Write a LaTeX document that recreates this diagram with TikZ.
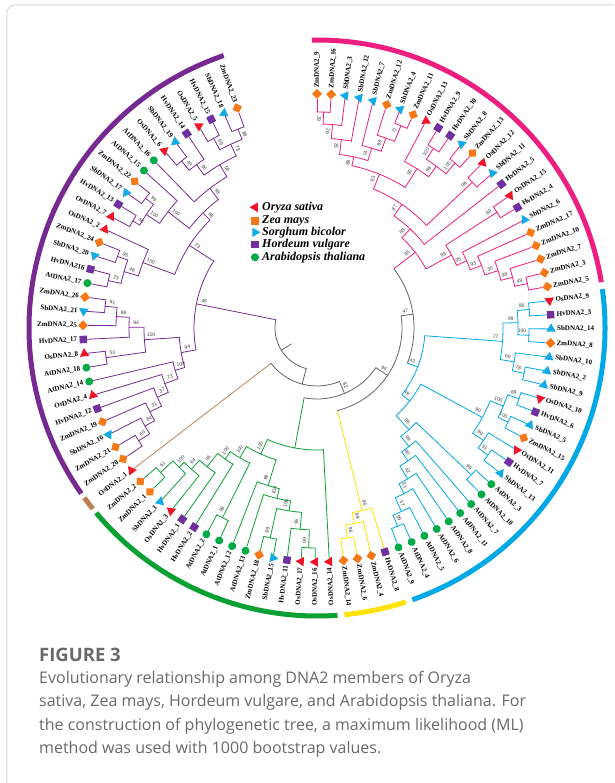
\documentclass[tikz,border=0pt]{standalone}
\usepackage{fontspec}
\setmainfont{Liberation Serif}
\newfontfamily\numfont{Liberation Sans}
\newfontfamily\capfont{Open Sans}
\usetikzlibrary{shapes.geometric, positioning}
\usepackage{xcolor}
\definecolor{osred}{RGB}{240,20,40}
\definecolor{zmorange}{RGB}{247,120,25}
\definecolor{sbcyan}{RGB}{20,170,230}
\definecolor{hvpurple}{RGB}{112,48,160}
\definecolor{atgreen}{RGB}{0,170,70}
\definecolor{cpur}{RGB}{118,42,145}
\definecolor{cpink}{RGB}{236,30,128}
\definecolor{cblue}{RGB}{0,168,230}
\definecolor{cyel}{RGB}{255,226,0}
\definecolor{cgrn}{RGB}{10,160,50}
\definecolor{cbrn}{RGB}{190,130,80}
\definecolor{cgray}{RGB}{100,100,100}
\definecolor{bootgray}{RGB}{60,60,60}
\definecolor{capgray}{RGB}{105,105,105}
\definecolor{framegray}{RGB}{215,215,215}

% angle between two neighbouring leaves
\newcommand{\stp}{3.47}

% leaf: name, index, marker, clade colour, text
\newcommand{\leaf}[5]{%
  \pgfmathsetmacro{\leafang}{90-\stp*#2}%
  \expandafter\xdef\csname pos@#1\endcsname{#2}%
  \expandafter\xdef\csname col@#1\endcsname{#4}%
  \node[#3, rotate=\leafang] (#1) at (\leafang:234pt) {};
  \ifdim #2pt<50.5pt
    \node[lab, anchor=west, rotate=\leafang] (#1-t) at (\leafang:240pt) {#5};
  \else
    \pgfmathsetmacro{\leafrot}{\leafang+180}%
    \node[lab, anchor=east, rotate=\leafrot] (#1-t) at (\leafang:240pt) {#5};
  \fi}

% internal node: name, child a, child b, radius, colour, bootstrap
\newcommand{\mkclade}[6]{%
  \pgfmathsetmacro{\posA}{\csname pos@#2\endcsname}%
  \pgfmathsetmacro{\posB}{\csname pos@#3\endcsname}%
  \pgfmathsetmacro{\posN}{(\posA+\posB)/2}%
  \pgfmathsetmacro{\angA}{90-\stp*\posA}%
  \pgfmathsetmacro{\angB}{90-\stp*\posB}%
  \pgfmathsetmacro{\angN}{90-\stp*\posN}%
  \expandafter\xdef\csname pos@#1\endcsname{\posN}%
  \expandafter\xdef\csname col@#1\endcsname{#5}%
  \coordinate (#1) at (\angN:#4pt);
  \draw[branch, \csname col@#2\endcsname] (\angA:#4pt) -- (#2);
  \draw[branch, \csname col@#3\endcsname] (\angB:#4pt) -- (#3);
  \draw[branch, #5] (\angA:#4pt) arc[start angle=\angA, end angle=\angB, radius=#4pt];
  \ifx\relax#6\relax\else
    \pgfmathsetmacro{\bootr}{#4-7}%
    \ifdim\posN pt<50.5pt
      \pgfmathsetmacro{\bootang}{\angN+258/#4}%
      \pgfmathsetmacro{\bootrot}{\bootang}%
    \else
      \pgfmathsetmacro{\bootang}{\angN-258/#4}%
      \pgfmathsetmacro{\bootrot}{\bootang+180}%
    \fi
    \node[boot, rotate=\bootrot] (#1-b) at (\bootang:\bootr pt) {#6};
  \fi}

% coloured band round a clade: colour, first leaf, last leaf
\newcommand{\band}[3]{%
  \pgfmathsetmacro{\bandA}{90-\stp*(#2)}%
  \pgfmathsetmacro{\bandB}{90-\stp*(#3)}%
  \draw[band, #1] (\bandA:288pt) arc[start angle=\bandA, end angle=\bandB, radius=288pt];}

\begin{document}
\begin{tikzpicture}[
    x=1pt, y=1pt,
    branch/.style={line width=0.8pt, line cap=round},
    band/.style={line width=5pt},
    osmark/.style={regular polygon, regular polygon sides=3, shape border rotate=180, fill=osred, minimum size=11pt, inner sep=0pt},
    sbmark/.style={regular polygon, regular polygon sides=3, fill=sbcyan, minimum size=11pt, inner sep=0pt},
    zmmark/.style={regular polygon, regular polygon sides=4, shape border rotate=45, fill=zmorange, minimum size=10pt, inner sep=0pt},
    hvmark/.style={regular polygon, regular polygon sides=4, fill=hvpurple, minimum size=10.5pt, inner sep=0pt},
    atmark/.style={circle, fill=atgreen, minimum size=8pt, inner sep=0pt},
    lab/.style={font=\fontsize{7}{7}\selectfont\bfseries, inner sep=0pt},
    boot/.style={font=\numfont\fontsize{5}{5}\selectfont, text=bootgray, inner sep=0pt},
    legtxt/.style={font=\fontsize{12}{12}\selectfont\bfseries\itshape, inner sep=0pt, anchor=west},
]
\useasboundingbox (-317,-455) rectangle (297,328);
\clip (-317,-455) rectangle (297,328);

\draw[framegray, line width=1pt, rounded corners=8pt] (-310,-480) -- (-310,323) -- (320,323);

% pink clade
\leaf{zm9}{0}{zmmark}{cpink}{ZmDNA2\_9}
\leaf{zm16}{1}{zmmark}{cpink}{ZmDNA2\_16}
\leaf{sb3}{2}{sbmark}{cpink}{SbDNA2\_3}
\leaf{sb12}{3}{sbmark}{cpink}{SbDNA2\_12}
\leaf{sb7}{4}{sbmark}{cpink}{SbDNA2\_7}
\leaf{zm12}{5}{zmmark}{cpink}{ZmDNA2\_12}
\leaf{sb4}{6}{sbmark}{cpink}{SbDNA2\_4}
\leaf{zm11}{7}{zmmark}{cpink}{ZmDNA2\_11}
\leaf{os13}{8}{osmark}{cpink}{OsDNA2\_13}
\leaf{hv9}{9}{hvmark}{cpink}{HvDNA2\_9}
\leaf{hv10}{10}{hvmark}{cpink}{HvDNA2\_10}
\leaf{sb8}{11}{sbmark}{cpink}{SbDNA2\_8}
\leaf{zm13}{12}{zmmark}{cpink}{ZmDNA2\_13}
\leaf{os12}{13}{osmark}{cpink}{OsDNA2\_12}
\leaf{sb11}{14}{sbmark}{cpink}{SbDNA2\_11}
\leaf{hv5}{15}{hvmark}{cpink}{HvDNA2\_5}
\leaf{os15}{16}{osmark}{cpink}{OsDNA2\_15}
\leaf{hv4}{17}{hvmark}{cpink}{HvDNA2\_4}
\leaf{sb6}{18}{sbmark}{cpink}{SbDNA2\_6}
\leaf{zm17}{19}{zmmark}{cpink}{ZmDNA2\_17}
\leaf{zm10}{20}{zmmark}{cpink}{ZmDNA2\_10}
\leaf{zm7}{21}{zmmark}{cpink}{ZmDNA2\_7}
\leaf{zm3}{22}{zmmark}{cpink}{ZmDNA2\_3}
\leaf{zm5}{23}{zmmark}{cpink}{ZmDNA2\_5}
% blue clade
\leaf{os9}{24}{osmark}{cblue}{OsDNA2\_9}
\leaf{hv3}{25}{hvmark}{cblue}{HvDNA2\_3}
\leaf{sb14}{26}{sbmark}{cblue}{SbDNA2\_14}
\leaf{zm8}{27}{zmmark}{cblue}{ZmDNA2\_8}
\leaf{sb10}{28}{sbmark}{cblue}{SbDNA2\_10}
\leaf{sb2}{29}{sbmark}{cblue}{SbDNA2\_2}
\leaf{sb9}{30}{sbmark}{cblue}{SbDNA2\_9}
\leaf{os10}{31}{osmark}{cblue}{OsDNA2\_10}
\leaf{hv6}{32}{hvmark}{cblue}{HvDNA2\_6}
\leaf{sb5}{33}{sbmark}{cblue}{SbDNA2\_5}
\leaf{zm15}{34}{zmmark}{cblue}{ZmDNA2\_15}
\leaf{os11}{35}{osmark}{cblue}{OsDNA2\_11}
\leaf{hv7}{36}{hvmark}{cblue}{HvDNA2\_7}
\leaf{sb13}{37}{sbmark}{cblue}{SbDNA2\_13}
\leaf{at3}{38}{atmark}{cblue}{AtDNA2\_3}
\leaf{at10}{39}{atmark}{cblue}{AtDNA2\_10}
\leaf{at7}{40}{atmark}{cblue}{AtDNA2\_7}
\leaf{at11}{41}{atmark}{cblue}{AtDNA2\_11}
\leaf{at8}{42}{atmark}{cblue}{AtDNA2\_8}
\leaf{at6}{43}{atmark}{cblue}{AtDNA2\_6}
\leaf{at5}{44}{atmark}{cblue}{AtDNA2\_5}
\leaf{at4}{45}{atmark}{cblue}{AtDNA2\_4}
\leaf{at9}{46}{atmark}{cblue}{AtDNA2\_9}
% yellow clade
\leaf{hv8}{47}{hvmark}{cyel}{HvDNA2\_8}
\leaf{zm4}{48}{zmmark}{cyel}{ZmDNA2\_4}
\leaf{zm6}{49}{zmmark}{cyel}{ZmDNA2\_6}
\leaf{zm14}{50}{zmmark}{cyel}{ZmDNA2\_14}
% green clade
\leaf{os14}{51}{osmark}{cgrn}{OsDNA2\_14}
\leaf{os16}{52}{osmark}{cgrn}{OsDNA2\_16}
\leaf{os17}{53}{osmark}{cgrn}{OsDNA2\_17}
\leaf{hv11}{54}{hvmark}{cgrn}{HvDNA2\_11}
\leaf{sb15}{55}{sbmark}{cgrn}{SbDNA2\_15}
\leaf{zm18}{56}{zmmark}{cgrn}{ZmDNA2\_18}
\leaf{at13}{57}{atmark}{cgrn}{AtDNA2\_13}
\leaf{at12}{58}{atmark}{cgrn}{AtDNA2\_12}
\leaf{at1}{59}{atmark}{cgrn}{AtDNA2\_1}
\leaf{at2}{60}{atmark}{cgrn}{AtDNA2\_2}
\leaf{hv2}{61}{hvmark}{cgrn}{HvDNA2\_2}
\leaf{hv1}{62}{hvmark}{cgrn}{HvDNA2\_1}
\leaf{os3}{63}{osmark}{cgrn}{OsDNA2\_3}
\leaf{sb1}{64}{sbmark}{cgrn}{SbDNA2\_1}
\leaf{zm1}{65}{zmmark}{cgrn}{ZmDNA2\_1}
\leaf{zm2}{66}{zmmark}{cgrn}{ZmDNA2\_2}
% brown
\leaf{os1}{67}{osmark}{cbrn}{OsDNA2\_1}
% purple clade
\leaf{zm20}{68}{zmmark}{cpur}{ZmDNA2\_20}
\leaf{zm21}{69}{zmmark}{cpur}{ZmDNA2\_21}
\leaf{sb16}{70}{sbmark}{cpur}{SbDNA2\_16}
\leaf{zm19}{71}{zmmark}{cpur}{ZmDNA2\_19}
\leaf{hv12}{72}{hvmark}{cpur}{HvDNA2\_12}
\leaf{os4}{73}{osmark}{cpur}{OsDNA2\_4}
\leaf{at14}{74}{atmark}{cpur}{AtDNA2\_14}
\leaf{at18}{75}{atmark}{cpur}{AtDNA2\_18}
\leaf{os8}{76}{osmark}{cpur}{OsDNA2\_8}
\leaf{hv17}{77}{hvmark}{cpur}{HvDNA2\_17}
\leaf{zm25}{78}{zmmark}{cpur}{ZmDNA2\_25}
\leaf{sb21}{79}{sbmark}{cpur}{SbDNA2\_21}
\leaf{zm26}{80}{zmmark}{cpur}{ZmDNA2\_26}
\leaf{at17}{81}{atmark}{cpur}{AtDNA2\_17}
\leaf{hv16}{82}{hvmark}{cpur}{HvDNA216}
\leaf{sb20}{83}{sbmark}{cpur}{SbDNA2\_20}
\leaf{zm24}{84}{zmmark}{cpur}{ZmDNA2\_24}
\leaf{os2}{85}{osmark}{cpur}{OsDNA2\_2}
\leaf{os7}{86}{osmark}{cpur}{OsDNA2\_7}
\leaf{hv13}{87}{hvmark}{cpur}{HvDNA2\_13}
\leaf{sb17}{88}{sbmark}{cpur}{SbDNA2\_17}
\leaf{zm22}{89}{zmmark}{cpur}{ZmDNA2\_22}
\leaf{at15}{90}{atmark}{cpur}{AtDNA2\_15}
\leaf{at16}{91}{atmark}{cpur}{AtDNA2\_16}
\leaf{os6}{92}{osmark}{cpur}{OsDNA2\_6}
\leaf{sb19}{93}{sbmark}{cpur}{SbDNA2\_19}
\leaf{hv14}{94}{hvmark}{cpur}{HvDNA2\_14}
\leaf{os5}{95}{osmark}{cpur}{OsDNA2\_5}
\leaf{hv15}{96}{hvmark}{cpur}{HvDNA2\_15}
\leaf{sb18}{97}{sbmark}{cpur}{SbDNA2\_18}
\leaf{zm23}{98}{zmmark}{cpur}{ZmDNA2\_23}

% pink subtree
\mkclade{pk82}{zm9}{zm16}{216}{cpink}{82}
\mkclade{pk92a}{pk82}{sb3}{204}{cpink}{92}
\mkclade{pk92b}{pk92a}{sb12}{190}{cpink}{92}
\mkclade{pk71}{sb4}{zm11}{219}{cpink}{71}
\mkclade{pk98a}{zm12}{pk71}{202}{cpink}{98}
\mkclade{pk74}{sb7}{pk98a}{188}{cpink}{74}
\mkclade{pk89}{pk92b}{pk74}{175}{cpink}{89}
\mkclade{pk100a}{hv9}{hv10}{214}{cpink}{100}
\mkclade{pk100b}{sb8}{zm13}{215}{cpink}{100}
\mkclade{pk98b}{pk100a}{pk100b}{201}{cpink}{98}
\mkclade{pk90a}{os13}{pk98b}{188}{cpink}{90}
\mkclade{pk93a}{pk89}{pk90a}{166}{cpink}{93}
\mkclade{pk96}{os12}{sb11}{213}{cpink}{96}
\mkclade{pk87}{pk93a}{pk96}{150}{cpink}{87}
\mkclade{pk88}{pk87}{hv5}{136}{cpink}{88}
\mkclade{pk90b}{os15}{hv4}{214}{cpink}{90}
\mkclade{pk49}{zm3}{zm5}{215}{cpink}{49}
\mkclade{pk99a}{zm7}{pk49}{202}{cpink}{99}
\mkclade{pk30}{zm10}{pk99a}{190}{cpink}{30}
\mkclade{pk93b}{zm17}{pk30}{176}{cpink}{93}
\mkclade{pk95}{sb6}{pk93b}{164}{cpink}{95}
\mkclade{pk99b}{pk90b}{pk95}{153}{cpink}{99}
\mkclade{pk85}{pk88}{pk99b}{124}{cpink}{85}

% blue subtree
\mkclade{bl96}{os9}{hv3}{213}{cblue}{96}
\mkclade{bl100a}{sb14}{zm8}{212}{cblue}{100}
\mkclade{bl99a}{bl96}{bl100a}{201}{cblue}{99}
\mkclade{bl78}{sb2}{sb9}{212}{cblue}{78}
\mkclade{bl60}{sb10}{bl78}{200}{cblue}{60}
\mkclade{bl77}{bl99a}{bl60}{186}{cblue}{77}
\mkclade{bl69}{os10}{hv6}{214}{cblue}{69}
\mkclade{bl100b}{sb5}{zm15}{213}{cblue}{100}
\mkclade{bl100c}{bl69}{bl100b}{202}{cblue}{100}
\mkclade{bl51}{hv7}{sb13}{213}{cblue}{51}
\mkclade{bl99b}{os11}{bl51}{201}{cblue}{99}
\mkclade{bl90}{bl100c}{bl99b}{188}{cblue}{90}
\mkclade{bl99c}{at3}{at10}{213}{cblue}{99}
\mkclade{bl99d}{at4}{at9}{214}{cblue}{99}
\mkclade{bl57}{at5}{bl99d}{202}{cblue}{57}
\mkclade{bl31}{at6}{bl57}{187}{cblue}{31}
\mkclade{bl42b}{at8}{bl31}{176}{cblue}{42}
\mkclade{bl80}{at11}{bl42b}{161}{cblue}{80}
\mkclade{bl99e}{at7}{bl80}{150}{cblue}{99}
\mkclade{bl96b}{bl99c}{bl99e}{137}{cblue}{96}
\mkclade{bl49}{bl90}{bl96b}{118}{cblue}{49}
\mkclade{bl42}{bl77}{bl49}{108}{cblue}{42}

% yellow subtree
\mkclade{ye96a}{zm6}{zm14}{212}{cyel}{96}
\mkclade{ye99}{zm4}{ye96a}{199}{cyel}{99}
\mkclade{ye96b}{hv8}{ye99}{188}{cyel}{96}

% green subtree
\mkclade{gr99a}{os16}{os17}{220}{cgrn}{99}
\mkclade{gr95}{gr99a}{hv11}{202}{cgrn}{95}
\mkclade{gr99b}{sb15}{zm18}{215}{cgrn}{99}
\mkclade{gr100a}{gr95}{gr99b}{185}{cgrn}{100}
\mkclade{gr100b}{gr100a}{at13}{175}{cgrn}{100}
\mkclade{gr99c}{gr100b}{at12}{165}{cgrn}{99}
\mkclade{gr99d}{at1}{at2}{212}{cgrn}{99}
\mkclade{gr61}{zm1}{zm2}{213}{cgrn}{61}
\mkclade{gr100c}{sb1}{gr61}{196}{cgrn}{100}
\mkclade{gr64}{os3}{gr100c}{189}{cgrn}{64}
\mkclade{gr96}{hv1}{gr64}{177}{cgrn}{96}
\mkclade{gr100d}{hv2}{gr96}{160}{cgrn}{100}
\mkclade{gr100e}{gr99d}{gr100d}{151}{cgrn}{100}
\mkclade{gr100f}{gr99c}{gr100e}{138}{cgrn}{100}
\mkclade{gr0}{os14}{gr100f}{122}{cgrn}{}

% purple subtree
\mkclade{pu60}{zm20}{zm21}{211}{cpur}{60}
\mkclade{pu84}{pu60}{sb16}{198}{cpur}{84}
\mkclade{pu31}{pu84}{zm19}{187}{cpur}{31}
\mkclade{pu37}{pu31}{hv12}{174}{cpur}{37}
\mkclade{pu73}{pu37}{os4}{162}{cpur}{73}
\mkclade{pu100a}{pu73}{at14}{148}{cpur}{100}
\mkclade{pu53}{at18}{os8}{213}{cpur}{53}
\mkclade{pu81}{sb21}{zm26}{213}{cpur}{81}
\mkclade{pu98a}{zm25}{pu81}{201}{cpur}{98}
\mkclade{pu94a}{hv17}{pu98a}{188}{cpur}{94}
\mkclade{pu100b}{pu53}{pu94a}{173}{cpur}{100}
\mkclade{pu94b}{pu100a}{pu100b}{138}{cpur}{94}
\mkclade{pu23a}{at17}{hv16}{214}{cpur}{23}
\mkclade{pu95}{sb20}{zm24}{212}{cpur}{95}
\mkclade{pu48}{pu23a}{pu95}{201}{cpur}{48}
\mkclade{pu100c}{pu48}{os2}{186}{cpur}{100}
\mkclade{pu40}{os7}{hv13}{213}{cpur}{40}
\mkclade{pu99a}{sb17}{zm22}{215}{cpur}{99}
\mkclade{pu100d}{pu40}{pu99a}{205}{cpur}{100}
\mkclade{pu100e}{pu100d}{at15}{189}{cpur}{100}
\mkclade{pu49}{os6}{sb19}{215}{cpur}{49}
\mkclade{pu96}{pu49}{hv14}{203}{cpur}{96}
\mkclade{pu99b}{os5}{hv15}{216}{cpur}{99}
\mkclade{pu88}{sb18}{zm23}{214}{cpur}{88}
\mkclade{pu78}{pu99b}{pu88}{203}{cpur}{78}
\mkclade{pu59}{pu96}{pu78}{190}{cpur}{59}
\mkclade{pu99c}{at16}{pu59}{176}{cpur}{99}
\mkclade{pu98b}{pu100e}{pu99c}{162}{cpur}{98}
\mkclade{pu23b}{pu100c}{pu98b}{152}{cpur}{23}
\mkclade{pu46}{pu94b}{pu23b}{123}{cpur}{46}

% backbone
\mkclade{bb47}{pk85}{bl42}{97}{cgray}{47}
\mkclade{bb94}{bb47}{ye96b}{85}{cgray}{94}
\mkclade{bb82}{gr0}{bb94}{71}{cgray}{82}
\mkclade{bb1}{bb82}{os1}{58}{cgray}{}
\mkclade{root}{bb1}{pu46}{42}{cgray}{}
\draw[branch, cgray] (root) -- (\angN:30pt);

% clade bands
\band{cpink}{-0.3}{23.3}
\band{cblue}{23.7}{46.3}
\band{cyel}{46.7}{50.3}
\band{cgrn}{50.7}{66.3}
\band{cbrn}{66.6}{67.4}
\band{cpur}{67.7}{98.3}

% legend
\node[osmark, rotate=-90] (leg-os) at (-62,120.7) {};
\node[zmmark, rotate=45, minimum size=11pt] (leg-zm) at (-62,107.3) {};
\node[sbmark, rotate=-90] (leg-sb) at (-62,95.7) {};
\node[hvmark] (leg-hv) at (-62,83.7) {};
\node[atmark] (leg-at) at (-62,70.7) {};
\node[legtxt] (legt-os) at (-55,120.7) {Oryza sativa};
\node[legtxt] (legt-zm) at (-55,107.3) {Zea mays};
\node[legtxt] (legt-sb) at (-55,95.7) {Sorghum bicolor};
\node[legtxt] (legt-hv) at (-55,83.7) {Hordeum vulgare};
\node[legtxt] (legt-at) at (-55,70.7) {Arabidopsis thaliana};

% caption
\node[anchor=base west, inner sep=0pt, text=capgray, font=\capfont\bfseries\fontsize{18.5}{18.5}\selectfont] (figtitle) at (-278,-333) {FIGURE 3};
\node[anchor=north west, inner sep=0pt, align=left, text=capgray, font=\capfont\fontsize{16}{23.5}\selectfont] (figcap) at (-278,-343)
  {Evolutionary relationship among DNA2 members of Oryza\\
   sativa, Zea mays, Hordeum vulgare, and Arabidopsis thaliana. For\\
   the construction of phylogenetic tree, a maximum likelihood (ML)\\
   method was used with 1000 bootstrap values.};
\end{tikzpicture}
\end{document}
